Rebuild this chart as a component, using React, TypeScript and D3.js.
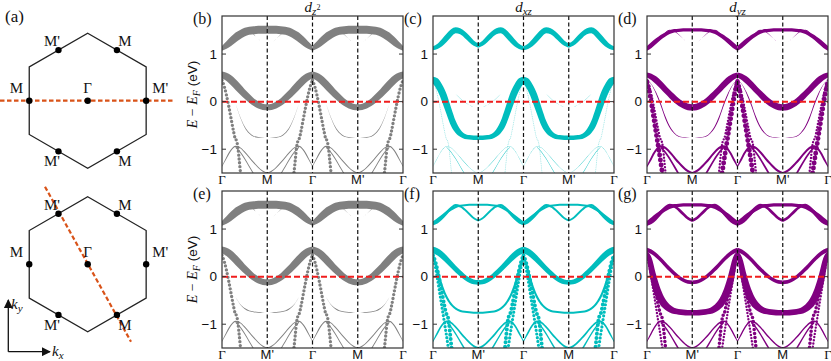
import React from 'react';
import * as d3 from 'd3';

// ---- band energies (eV) along Γ→M, k = 0 at Γ and 1 at M ----
// the other three quarters of the path are mirror images of this one
const kFull = [0, 0.1, 0.2, 0.3, 0.4, 0.5, 0.6, 0.7, 0.8, 0.9, 1];
const kSteepA = [0, 0.05, 0.1, 0.15, 0.2, 0.25, 0.29, 0.32, 0.35, 0.38, 0.41, 0.43];
const kSteepB = [0, 0.05, 0.1, 0.15, 0.2, 0.25, 0.3, 0.34, 0.36];
const kDrop = [0.3, 0.4, 0.5, 0.6, 0.7, 0.75];

const eUpper1 = [1.12, 1.19, 1.27, 1.35, 1.41, 1.46, 1.49, 1.5, 1.51, 1.51, 1.51];
const eUpper2 = [1.12, 1.16, 1.24, 1.34, 1.44, 1.5, 1.48, 1.41, 1.32, 1.23, 1.18];
const eCos = [0.56, 0.52, 0.45, 0.36, 0.26, 0.16, 0.07, -0.01, -0.07, -0.11, -0.12];
const eFlatTop = [0.45, 0.36, 0.18, -0.05, -0.32, -0.53, -0.66, -0.73, -0.75, -0.76, -0.76];
const eFlatBot = [0.45, 0.12, -0.2, -0.43, -0.58, -0.67, -0.72, -0.74, -0.75, -0.76, -0.76];
const eBump = [-1.36, -1.18, -1.02, -0.94, -0.97, -1.06, -1.17, -1.28, -1.38, -1.46, -1.5];
const eDrop = [-0.96, -1.06, -1.2, -1.36, -1.52, -1.6];
const eSteepA = [0.45, 0.32, 0.13, -0.1, -0.35, -0.6, -0.77, -0.82, -0.95, -1.22, -1.5, -1.65];
const eSteepB = [0.42, 0.22, -0.05, -0.35, -0.65, -0.95, -1.25, -1.5, -1.6];

// ---- orbital weights (0..1), rows: upper1, upper2, cos, flat, bump, drop, steepA, steepB ----
const weightsZ2 = [
  [0.6, 0.75, 0.9, 1, 1, 1, 1, 1, 1, 1, 1],
  [0, 0.04, 0.08, 0.1, 0.1, 0.1, 0.08, 0.04, 0, 0, 0],
  [0.9, 0.9, 0.95, 0.95, 0.9, 0.85, 0.85, 0.8, 0.8, 0.75, 0.75],
  [0, 0, 0, 0, 0.04, 0.08, 0.1, 0.1, 0.08, 0.04, 0],
  [0.13, 0.13, 0.13, 0.13, 0.12, 0.12, 0.12, 0.12, 0.12, 0.12, 0.12],
  [0.12, 0.12, 0.12, 0.12, 0.12, 0.12],
  [0.42, 0.42, 0.42, 0.42, 0.42, 0.42, 0.42, 0.42, 0.42, 0.42, 0.42, 0.42],
  [0, 0, 0, 0, 0, 0, 0, 0, 0],
];
const weightsXZ = [
  [0, 0, 0.05, 0.06, 0.06, 0.05, 0, 0, 0, 0, 0],
  [0.5, 0.55, 0.65, 0.7, 0.75, 0.75, 0.7, 0.65, 0.6, 0.55, 0.55],
  [0, 0, 0, 0, 0, 0, 0.03, 0.03, 0, 0, 0],
  [0.9, 0.9, 0.9, 0.9, 0.85, 0.75, 0.65, 0.6, 0.55, 0.55, 0.55],
  [0.03, 0.03, 0.03, 0.03, 0.03, 0.03, 0.03, 0.03, 0.03, 0.03, 0.03],
  [0.05, 0.05, 0.05, 0.05, 0.05, 0.05],
  [0.05, 0.05, 0.05, 0.05, 0.05, 0.05, 0.05, 0.05, 0.05, 0.05, 0.05, 0.05],
  [0, 0, 0, 0, 0, 0, 0, 0, 0],
];
const weightsYZ = [
  [0.6, 0.6, 0.55, 0.5, 0.45, 0.42, 0.4, 0.4, 0.4, 0.4, 0.4],
  [0, 0.05, 0.1, 0.12, 0.12, 0.1, 0.08, 0.05, 0, 0, 0],
  [0.65, 0.7, 0.75, 0.75, 0.75, 0.75, 0.8, 0.8, 0.8, 0.8, 0.8],
  [0, 0.05, 0.1, 0.12, 0.12, 0.12, 0.1, 0.08, 0.05, 0.03, 0],
  [0.26, 0.26, 0.26, 0.26, 0.26, 0.26, 0.26, 0.26, 0.26, 0.26, 0.26],
  [0.22, 0.22, 0.22, 0.22, 0.22, 0.22],
  [0.3, 0.3, 0.3, 0.3, 0.3, 0.3, 0.3, 0.3, 0.3, 0.3, 0.3, 0.3],
  [0.62, 0.62, 0.62, 0.62, 0.62, 0.62, 0.62, 0.62, 0.62],
];
const weightsXZrot = [
  [0.45, 0.4, 0.35, 0.3, 0.28, 0.25, 0.25, 0.25, 0.25, 0.25, 0.25],
  [0.5, 0.45, 0.4, 0.35, 0.3, 0.3, 0.28, 0.25, 0.25, 0.25, 0.25],
  [0.8, 0.8, 0.75, 0.7, 0.65, 0.62, 0.6, 0.6, 0.6, 0.6, 0.6],
  [0.35, 0.3, 0.28, 0.25, 0.25, 0.25, 0.25, 0.25, 0.25, 0.25, 0.25],
  [0.22, 0.22, 0.22, 0.22, 0.22, 0.22, 0.22, 0.22, 0.22, 0.22, 0.22],
  [0.18, 0.18, 0.18, 0.18, 0.18, 0.18],
  [0.5, 0.5, 0.5, 0.5, 0.5, 0.5, 0.5, 0.5, 0.5, 0.5, 0.5, 0.5],
  [0.4, 0.4, 0.4, 0.4, 0.4, 0.4, 0.4, 0.4, 0.4],
];
const weightsYZrot = [
  [0.6, 0.55, 0.5, 0.45, 0.42, 0.4, 0.4, 0.4, 0.4, 0.4, 0.4],
  [0.6, 0.55, 0.5, 0.45, 0.4, 0.35, 0.35, 0.35, 0.35, 0.35, 0.35],
  [0.55, 0.5, 0.48, 0.45, 0.45, 0.45, 0.45, 0.45, 0.45, 0.45, 0.45],
  [0.95, 0.95, 0.95, 0.9, 0.85, 0.8, 0.75, 0.7, 0.7, 0.7, 0.7],
  [0.18, 0.18, 0.18, 0.18, 0.18, 0.18, 0.18, 0.18, 0.18, 0.18, 0.18],
  [0.18, 0.18, 0.18, 0.18, 0.18, 0.18],
  [0.45, 0.45, 0.45, 0.45, 0.45, 0.45, 0.45, 0.45, 0.45, 0.45, 0.45, 0.45],
  [0.3, 0.3, 0.3, 0.3, 0.3, 0.3, 0.3, 0.3, 0.3],
];

const pathTop = ['Γ', 'M', 'Γ', "M'", 'Γ'];
const pathBottom = ['Γ', "M'", 'Γ', 'M', 'Γ'];
const yTicks = [-1, 0, 1];
const hexLabels = ["M'", 'M', 'M', "M'", "M'", 'M']; // upper-left, upper-right, left, right, lower-left, lower-right

const bandsTop = [
  { k: kFull, e: eUpper1, dots: false },
  { k: kFull, e: eUpper2, dots: false },
  { k: kFull, e: eCos, dots: false },
  { k: kFull, e: eFlatTop, dots: false },
  { k: kFull, e: eBump, dots: false },
  { k: kDrop, e: eDrop, dots: false },
  { k: kSteepA, e: eSteepA, dots: true },
  { k: kSteepB, e: eSteepB, dots: true },
];
const bandsBottom = bandsTop.map((b, i) => (i === 3 ? { ...b, e: eFlatBot } : b));

const GRAY = '#808080';
const CYAN = '#00bdbd';
const PURPLE = '#800080';
const ORANGE = '#d95319';
const SERIF = '"Liberation Serif", "Times New Roman", serif';
const SANS = '"Liberation Sans", Arial, sans-serif';

const plotW = 181;
const plotH = 157;
const colLeft = [222, 433, 647];
const rowTop = [16, 191];

const xs = d3.scaleLinear().domain([0, 4]).range([0, plotW]);
const ys = d3.scaleLinear().domain([-1.5, 1.8]).range([plotH, 0]);
const thick = d3.scaleLinear().domain([0, 1]).range([0, 8]);

const pathPos = (q: number, k: number) => (q % 2 === 0 ? q + k : q + 1 - k);

// half thickness in px, widened on steep parts so the band keeps its width
function halfWidths(k: number[], e: number[], w: number[]) {
  const pxK = xs(1) - xs(0);
  const pxE = ys(0) - ys(1);
  const n = k.length;
  return k.map((kk, i) => {
    let s = 0;
    if (i > 0 && i < n - 1) s = ((e[i + 1] - e[i - 1]) * pxE) / ((k[i + 1] - k[i - 1]) * pxK);
    else if (i === 0 && kk > 0) s = ((e[1] - e[0]) * pxE) / ((k[1] - k[0]) * pxK);
    else if (i === n - 1 && kk < 1) s = ((e[i] - e[i - 1]) * pxE) / ((k[i] - k[i - 1]) * pxK);
    const f = Math.min(Math.sqrt(1 + s * s), 5);
    return (thick(w[i]) / 2) * f;
  });
}

const area = d3
  .area<any>()
  .x((d) => xs(d.p))
  .y0((d) => ys(d.e) + d.h)
  .y1((d) => ys(d.e) - d.h)
  .curve(d3.curveMonotoneX);

const line = d3
  .line<any>()
  .x((d) => xs(d.p))
  .y((d) => ys(d.e))
  .curve(d3.curveMonotoneX);

function Panel(props: any) {
  const { id, x0, y0, bands, weights, color, labels, letter, title, yLabel } = props;
  const marks: any[] = [];
  bands.forEach((b: any, bi: number) => {
    const w = weights[bi];
    const half = halfWidths(b.k, b.e, w);
    const meanW = d3.mean(w) as number;
    for (let q = 0; q < 4; q++) {
      let pts = b.k.map((kk: number, i: number) => ({ p: pathPos(q, kk), e: b.e[i], h: half[i] }));
      if (q % 2 === 1) pts = pts.reverse();
      if (b.dots) {
        if (meanW <= 0) continue;
        const sw = thick(meanW);
        marks.push(
          <path
            key={`${bi}-${q}`}
            d={line(pts) as string}
            fill="none"
            stroke={color}
            strokeWidth={sw}
            strokeLinecap="round"
            strokeDasharray={`0 ${sw * 0.7 + 1.5}`}
          />
        );
      } else {
        if (d3.max(w) === 0) continue;
        marks.push(<path key={`${bi}-${q}`} d={area(pts) as string} fill={color} stroke="none" />);
      }
    }
  });

  return (
    <g transform={`translate(${x0},${y0})`}>
      <defs>
        <clipPath id={`clip-${id}`}>
          <rect x={0} y={0} width={plotW} height={plotH} />
        </clipPath>
      </defs>
      <g clipPath={`url(#clip-${id})`}>{marks}</g>
      {[1, 2, 3].map((p) => (
        <line key={p} x1={xs(p)} x2={xs(p)} y1={0} y2={plotH} stroke="#111" strokeWidth={1.2} strokeDasharray="4 2.5" />
      ))}
      <line x1={0} x2={plotW} y1={ys(0)} y2={ys(0)} stroke="#f01d1d" strokeWidth={2} strokeDasharray="6 3" />
      <rect x={0} y={0} width={plotW} height={plotH} fill="none" stroke="#333" strokeWidth={1.2} />
      {yTicks.map((t) => (
        <g key={t}>
          <line x1={0} x2={4} y1={ys(t)} y2={ys(t)} stroke="#333" strokeWidth={1} />
          <line x1={plotW - 4} x2={plotW} y1={ys(t)} y2={ys(t)} stroke="#333" strokeWidth={1} />
          <text x={-5} y={ys(t)} dy="0.35em" textAnchor="end" fontFamily={SANS} fontSize={13.5} fill="#111">
            {t < 0 ? `\u2212${Math.abs(t)}` : `${t}`}
          </text>
        </g>
      ))}
      {labels.map((l: string, i: number) => (
        <text
          key={i}
          x={xs(i)}
          y={plotH + 11}
          textAnchor="middle"
          fontFamily={l === 'Γ' ? SERIF : SANS}
          fontSize={13}
          fill="#111"
        >
          {l}
        </text>
      ))}
      <text x={-29} y={8} fontFamily={SERIF} fontSize={16} fill="#111">
        ({letter})
      </text>
      {title && (
        <text x={plotW / 2} y={-4} textAnchor="middle" fontFamily={SERIF} fontSize={15} fill="#111">
          <tspan fontStyle="italic">d</tspan>
          {title === 'z2' ? (
            <>
              <tspan fontStyle="italic" fontSize={11} dy={3}>z</tspan>
              <tspan fontSize={8} dy={-5}>2</tspan>
            </>
          ) : (
            <tspan fontStyle="italic" fontSize={11} dy={3}>{title}</tspan>
          )}
        </text>
      )}
      {yLabel && (
        <text transform={`translate(-25,${plotH / 2}) rotate(-90)`} textAnchor="middle" fontSize={14} fill="#111" fontFamily={SERIF}>
          <tspan fontStyle="italic">E</tspan>
          <tspan> − </tspan>
          <tspan fontStyle="italic">E</tspan>
          <tspan fontStyle="italic" fontSize={10} dy={3}>F</tspan>
          <tspan fontFamily={SANS} fontSize={13.5} dy={-3} dx={4}>(eV)</tspan>
        </text>
      )}
    </g>
  );
}

function Hexagon({ cx, cy, cut }: { cx: number; cy: number; cut: number[] }) {
  const R = 67.5;
  const r = R * Math.cos(Math.PI / 6);
  const verts = d3.range(6).map((i) => {
    const a = ((90 - 60 * i) * Math.PI) / 180;
    return [cx + R * Math.cos(a), cy - R * Math.sin(a)];
  });
  const dotAngles = [120, 60, 180, 0, 240, 300];
  const labelOff = [
    [-6.5, -4],
    [8, -4],
    [-12.7, -7.7],
    [14, -7.7],
    [-6.5, 14.6],
    [8, 14.6],
  ];
  const dots = dotAngles.map((a) => [cx + r * Math.cos((a * Math.PI) / 180), cy - r * Math.sin((a * Math.PI) / 180)]);
  return (
    <g>
      <polygon points={verts.map((v) => v.join(',')).join(' ')} fill="none" stroke="#222" strokeWidth={1.3} />
      <line x1={cut[0]} y1={cut[1]} x2={cut[2]} y2={cut[3]} stroke={ORANGE} strokeWidth={2.2} strokeDasharray="4.5 2.5" />
      {dots.map((d, i) => (
        <g key={i}>
          <circle cx={d[0]} cy={d[1]} r={3.2} fill="#000" />
          <text x={d[0] + labelOff[i][0]} y={d[1] + labelOff[i][1]} textAnchor="middle" fontFamily={SERIF} fontSize={15} fill="#111">
            {hexLabels[i]}
          </text>
        </g>
      ))}
      <circle cx={cx} cy={cy} r={3.2} fill="#000" />
      <text x={cx} y={cy - 7.7} textAnchor="middle" fontFamily={SERIF} fontSize={15} fill="#111">
        Γ
      </text>
    </g>
  );
}

export default function App() {
  const panels = [
    { id: 'b', col: 0, row: 0, color: GRAY, weights: weightsZ2, title: 'z2' },
    { id: 'c', col: 1, row: 0, color: CYAN, weights: weightsXZ, title: 'xz' },
    { id: 'd', col: 2, row: 0, color: PURPLE, weights: weightsYZ, title: 'yz' },
    { id: 'e', col: 0, row: 1, color: GRAY, weights: weightsZ2, title: '' },
    { id: 'f', col: 1, row: 1, color: CYAN, weights: weightsXZrot, title: '' },
    { id: 'g', col: 2, row: 1, color: PURPLE, weights: weightsYZrot, title: '' },
  ];
  return (
    <div style={{ position: 'fixed', left: 0, top: 0 }}>
      <svg width={831} height={361} style={{ display: 'block', background: '#fff' }}>
        <text x={5} y={22} fontFamily={SERIF} fontSize={17} fill="#111">
          (a)
        </text>
        <Hexagon cx={87.7} cy={100.7} cut={[0, 100.7, 175, 100.7]} />
        <Hexagon cx={87.7} cy={264.3} cut={[45, 186.7, 131, 341.7]} />
        <defs>
          <marker id="arrow" viewBox="0 0 10 10" refX={9} refY={5} markerWidth={7} markerHeight={7} orient="auto">
            <path d="M0,0 L10,5 L0,10 z" fill="#111" />
          </marker>
        </defs>
        <line x1={8.3} y1={351.7} x2={8.3} y2={300} stroke="#111" strokeWidth={1.3} markerEnd="url(#arrow)" />
        <line x1={8.3} y1={351.7} x2={50} y2={351.7} stroke="#111" strokeWidth={1.3} markerEnd="url(#arrow)" />
        <text x={11} y={309} fontFamily={SERIF} fontStyle="italic" fontSize={15} fill="#111">
          k<tspan fontSize={11} dy={3}>y</tspan>
        </text>
        <text x={52} y={356} fontFamily={SERIF} fontStyle="italic" fontSize={15} fill="#111">
          k<tspan fontSize={11} dy={3}>x</tspan>
        </text>
        {panels.map((p) => (
          <Panel
            key={p.id}
            id={p.id}
            x0={colLeft[p.col]}
            y0={rowTop[p.row]}
            bands={p.row === 0 ? bandsTop : bandsBottom}
            weights={p.weights}
            color={p.color}
            labels={p.row === 0 ? pathTop : pathBottom}
            letter={p.id}
            title={p.title}
            yLabel={p.col === 0}
          />
        ))}
      </svg>
    </div>
  );
}
